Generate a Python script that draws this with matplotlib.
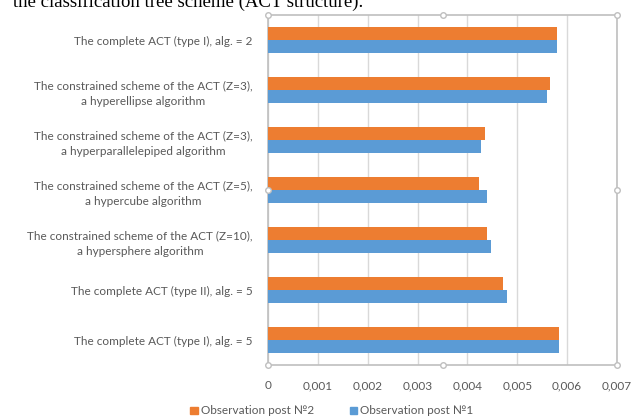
import matplotlib
matplotlib.use("Agg")
import matplotlib.pyplot as plt
from matplotlib.lines import Line2D
from matplotlib.patches import Patch

# Categories listed from top to bottom of the chart
categories = [
    "The complete ACT (type I), alg. = 2",
    "The constrained scheme of the ACT (Z=3),\na hyperellipse algorithm",
    "The constrained scheme of the ACT (Z=3),\na hyperparallelepiped algorithm",
    "The constrained scheme of the ACT (Z=5),\na hypercube algorithm",
    "The constrained scheme of the ACT (Z=10),\na hypersphere algorithm",
    "The complete ACT (type II), alg. = 5",
    "The complete ACT (type I), alg. = 5",
]
post2 = [0.00580, 0.00566, 0.00436, 0.00424, 0.00440, 0.00471, 0.00584]
post1 = [0.00579, 0.00559, 0.00427, 0.00439, 0.00448, 0.00479, 0.00584]
xticks = [0, 0.001, 0.002, 0.003, 0.004, 0.005, 0.006, 0.007]
xtick_labels = ["0", "0,001", "0,002", "0,003", "0,004", "0,005", "0,006", "0,007"]
series_names = ["Observation post №2", "Observation post №1"]

ORANGE = "#ED7D31"
BLUE = "#5B9BD5"
TEXT = "#595959"
GRID = "#D9D9D9"
FRAME = "#BFBFBF"

plt.rcParams["font.family"] = ["Lato", "DejaVu Sans"]

fig = plt.figure(figsize=(6.38, 4.20), dpi=100)
W, H = 638, 420
left, right, top, bottom = 268, 617, 15, 365
ax = fig.add_axes([left / W, 1 - bottom / H, (right - left) / W, (bottom - top) / H])

ypos = list(range(len(categories)))
h = 0.26
ax.barh([y - h / 2 for y in ypos], post2, height=h, color=ORANGE, zorder=3)
ax.barh([y + h / 2 for y in ypos], post1, height=h, color=BLUE, zorder=3)

ax.set_xlim(0, 0.007)
ax.set_ylim(len(categories) - 0.5, -0.5)
ax.set_xticks(xticks)
ax.set_xticklabels(xtick_labels)
ax.set_yticks(ypos)
ax.set_yticklabels(categories)
for lbl in ax.get_yticklabels():
    lbl.set_multialignment("center")
    lbl.set_linespacing(1.55)

ax.tick_params(axis="both", length=0, colors=TEXT, labelsize=8.5)
ax.tick_params(axis="y", pad=11)
ax.tick_params(axis="x", pad=11)
ax.grid(axis="x", color=GRID, linewidth=1, zorder=0)

for s in ax.spines.values():
    s.set_color(FRAME)
    s.set_linewidth(1.2)

# selection handles on the plot-area frame
hx = [0, 0.5, 1, 0, 1, 0, 0.5, 1]
hy = [1, 1, 1, 0.5, 0.5, 0, 0, 0]
ax.add_line(Line2D(hx, hy, transform=ax.transAxes, linestyle="none", marker="o",
                   markersize=4, markerfacecolor="white", markeredgecolor=FRAME,
                   markeredgewidth=1, clip_on=False, zorder=5))

handles = [Patch(color=ORANGE), Patch(color=BLUE)]
fig.legend(handles, series_names, loc="center", bbox_to_anchor=(332 / W, 1 - 411 / H),
           ncol=2, frameon=False, fontsize=8.5, labelcolor=TEXT,
           handlelength=0.6, handleheight=0.6, handletextpad=0.3, columnspacing=3.0)

fig.text(13 / W, 1 - 7 / H, "the classification tree scheme (ACT structure).",
         family="Liberation Serif", fontsize=13.5, color="black",
         ha="left", va="baseline")

fig.savefig("out.png", dpi=100)
